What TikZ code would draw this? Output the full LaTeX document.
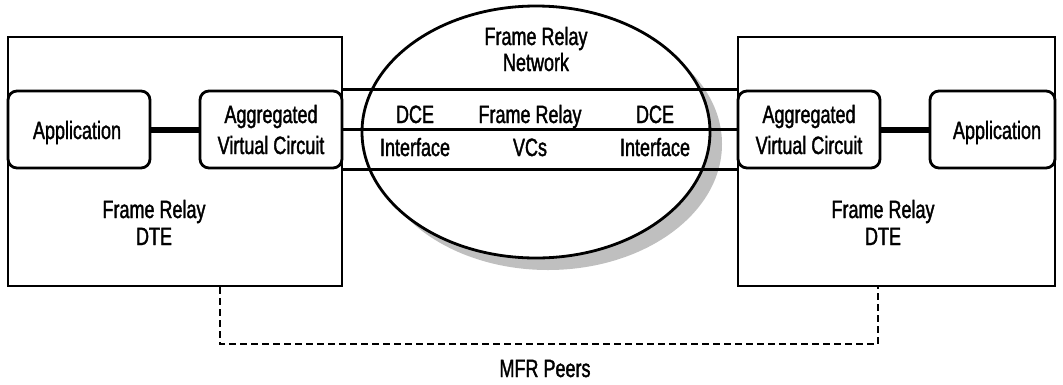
\documentclass[tikz,border=0pt]{standalone}
\usepackage{fontspec}
\setmainfont{Liberation Sans}[FakeStretch=0.72,FakeBold=1.5]
\usetikzlibrary{shapes.geometric}
\begin{document}
\begin{tikzpicture}[x=1pt,y=-1pt,
  every node/.style={font=\fontsize{25}{27}\selectfont, inner sep=0pt},
  dtebox/.style={draw, line width=2.8pt, minimum width=#1, minimum height=249pt},
  rbox/.style={draw, line width=2.8pt, rounded corners=9pt, fill=white, minimum width=#1, minimum height=77pt},
  lbl/.style={anchor=base},
  link/.style={line width=3pt},
  thick link/.style={line width=6pt},
  peer/.style={line width=2.6pt, dash pattern=on 7pt off 4pt}
]
\useasboundingbox (0,0) rectangle (1063,384);
% network ellipse with shadow
\fill[black!25] (548,144) ellipse [x radius=174, y radius=126];
\node[draw, line width=2.8pt, fill=white, ellipse, minimum width=348pt, minimum height=252pt] (net) at (536,132) {};
% DTE boxes
\node[dtebox=334pt] (dteL) at (175,161.5) {};
\node[dtebox=317pt] (dteR) at (896.5,161.5) {};
% inner boxes
\node[rbox=142pt] (appL) at (79,129.5) {};
\node[rbox=142pt] (aggL) at (271,129.5) {};
\node[rbox=142pt] (aggR) at (809,129.5) {};
\node[rbox=125pt] (appR) at (992.5,129.5) {};
% connectors
\draw[thick link] (appL) -- (aggL);
\draw[thick link] (aggR) -- (appR);
\draw[link] (aggL.north east) -- (aggR.north west);
\draw[link] (aggL.east) -- (aggR.west);
\draw[link] (aggL.south east) -- (aggR.south west);
% MFR peers dashed
\coordinate (pl) at (220,344);
\coordinate (pr) at (878,344);
\draw[peer] (dteL.south -| pl) -- (pl) -- (pr) -- (dteR.south -| pr);
% texts
\node[lbl] (tAppL) at (77,139) {Application};
\node[lbl] (tAgL1) at (271,123) {Aggregated};
\node[lbl] (tAgL2) at (271,154) {Virtual Circuit};
\node[lbl] (tAgR1) at (809,123) {Aggregated};
\node[lbl] (tAgR2) at (809,154) {Virtual Circuit};
\node[lbl] (tAppR) at (997,139) {Application};
\node[lbl] (tDL1) at (154,218) {Frame Relay};
\node[lbl] (tDL2) at (154,245) {DTE};
\node[lbl] (tDR1) at (883,218) {Frame Relay};
\node[lbl] (tDR2) at (883,245) {DTE};
\node[lbl] (tN1) at (536,45) {Frame Relay};
\node[lbl] (tN2) at (536,71) {Network};
\node[lbl] (tD1) at (415,123) {DCE};
\node[lbl] (tF1) at (530,123) {Frame Relay};
\node[lbl] (tD2) at (655,123) {DCE};
\node[lbl] (tI1) at (415,156) {Interface};
\node[lbl] (tV) at (530,156) {VCs};
\node[lbl] (tI2) at (655,156) {Interface};
\node[lbl] (tMFR) at (545,377) {MFR Peers};
\end{tikzpicture}
\end{document}
